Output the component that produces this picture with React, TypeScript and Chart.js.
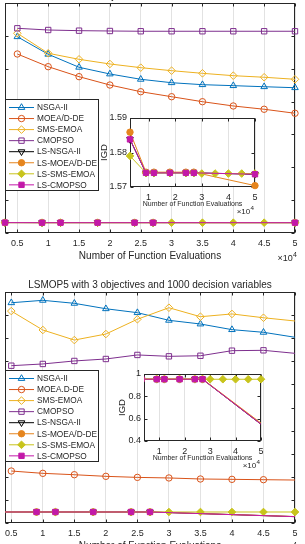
import React, { useEffect, useRef } from "react";
import { Chart, registerables } from "chart.js";
import { drawPoint } from "chart.js/helpers";

Chart.register(...registerables);

/* ---------------- data: IGD versus function evaluations (x 10^4) ---------------- */

const evals = [0.5, 1, 1.5, 2, 2.5, 3, 3.5, 4, 4.5, 5];
const lsEvals = [0.3, 0.9, 1.2, 1.8, 2.4, 2.7, 3, 3.5, 4, 4.5, 5];
const lsEvalsJump = [0.3, 0.9, 1.2, 1.8, 2.4, 2.7, 5];

const evalTicks = [0.5, 1, 1.5, 2, 2.5, 3, 3.5, 4, 4.5, 5];
const insetEvalTicks = [1, 2, 3, 4, 5];

// upper panel
const upperTitle = "LSMOP4 with 3 objectives and 1000 decision variables";
const upperNsga2 = [29.87, 27.2, 25.22, 24.2, 23.39, 22.87, 22.57, 22.42, 22.26, 22.11];
const upperMoeadDe = [27.24, 25.31, 23.79, 22.52, 21.5, 20.74, 19.98, 19.33, 18.83, 18.22];
const upperSmsEmoa = [30.39, 27.35, 26.43, 25.72, 25.16, 24.7, 24.3, 23.94, 23.7, 23.39];
const upperCmopso = [31.15, 30.89, 30.79, 30.74, 30.7, 30.7, 30.7, 30.7, 30.7, 30.7];
const upperLsNsga2 = [1.5838, 1.5741, 1.5741, 1.5741, 1.5741, 1.5741, 1.5737];
const upperLsMoeadDe = [1.5859, 1.5743, 1.5743, 1.5743, 1.5743, 1.5743, 1.5704];
const upperLsSmsEmoa = [1.579, 1.5741, 1.5741, 1.5741, 1.5741, 1.5741, 1.5739, 1.5739, 1.5739, 1.5739, 1.5739];
const upperLsCmopso = [1.5838, 1.5741, 1.5741, 1.5741, 1.5741, 1.5741, 1.5737];
const upperYTicks = [0, 5, 10, 15, 20, 25, 30, 35];
const upperInsetYTicks = [1.57, 1.58, 1.59];
const upperLabels = ["NSGA-II", "MOEA/D-DE", "SMS-EMOA", "CMOPSO", "LS-NSGA-II", "LS-MOEA/D-DE", "LS-SMS-EMOA", "LS-CMOPSO"];

// lower panel (LSMOP5)
const lowerTitle = "LSMOP5 with 3 objectives and 1000 decision variables";
const lowerNsga2 = [19.07, 19.28, 19.02, 18.55, 18.21, 17.55, 17.23, 16.74, 16.51, 16.08];
const lowerMoeadDe = [4.5, 4.3, 4.18, 4.04, 3.95, 3.9, 3.81, 3.78, 3.75, 3.72];
const lowerSmsEmoa = [18.35, 16.71, 15.84, 16.36, 17.64, 18.64, 17.86, 18.1, 17.77, 17.49];
const lowerCmopso = [13.62, 13.77, 14.03, 14.2, 14.55, 14.43, 14.48, 14.92, 14.95, 14.69];
const lowerLsNsga2 = [0.953, 0.953, 0.953, 0.953, 0.953, 0.953, 0.55];
const lowerLsMoeadDe = [0.955, 0.955, 0.955, 0.955, 0.955, 0.955, 0.56];
const lowerLsSmsEmoa = [0.953, 0.953, 0.953, 0.953, 0.953, 0.953, 0.953, 0.953, 0.953, 0.953, 0.953];
const lowerLsCmopso = [0.953, 0.953, 0.953, 0.953, 0.953, 0.953, 0.55];
const lowerYTicks = [0, 2, 4, 6, 8, 10, 12, 14, 16, 18, 20];
const lowerInsetYTicks = [0.4, 0.6, 0.8, 1];
const lowerLabels = ["NSGA-II", "MOEA.D-DE", "SMS-EMOA", "CMOPSO", "LS-NSGA-II", "LS-MOEA/D-DE", "LS-SMS-EMOA", "LS-CMOPSO"];

const xAxisLabel = "Number of Function Evaluations";
const insetYLabel = "IGD";

/* ---------------- styling ---------------- */

const AXIS = "#262626";
const GRID = "#e2e2e2";
const FONT = '"Liberation Sans", Arial, Helvetica, sans-serif';
const TICK_LEN = 3;

type MarkerStyle = { color: string; marker: string; rotation: number; filled: boolean; radius: number };

// one entry per algorithm, in legend order
const algoStyles: MarkerStyle[] = [
  { color: "#0072BD", marker: "triangle", rotation: 0, filled: false, radius: 3.8 },
  { color: "#D95319", marker: "circle", rotation: 0, filled: false, radius: 3.2 },
  { color: "#EDB120", marker: "rectRot", rotation: 0, filled: false, radius: 3.8 },
  { color: "#7E2F8E", marker: "rect", rotation: 0, filled: false, radius: 3.8 },
  { color: "#000000", marker: "triangle", rotation: 180, filled: false, radius: 3.8 },
  { color: "#E5851E", marker: "circle", rotation: 0, filled: true, radius: 3.2 },
  { color: "#C8C41C", marker: "rectRot", rotation: 0, filled: true, radius: 3.8 },
  { color: "#C218A8", marker: "rect", rotation: 0, filled: true, radius: 3.8 },
];

type Series = { xs: number[]; ys: number[]; style: number; endMarker?: boolean };

type Panel = {
  width: number;
  height: number;
  area: { left: number; top: number; right: number; bottom: number };
  xRange: [number, number];
  xTicks: number[];
  yRange: [number, number];
  yTicks: number[];
  series: Series[];
  clipLeft: number;
  whitePlot: boolean;
  tickFont: number;
  tickGap: number;
  yTickLabels: boolean;
  xLabelFont: number;
  xLabelGap: number;
  expFont: number;
  expGap: number;
  expRight: number;
  yLabelFont?: number;
  yLabelGap?: number;
  title?: string;
  titleGap?: number;
  legend?: { labels: string[]; top: number };
};

const upperSeries: Series[] = [
  { xs: evals, ys: upperNsga2, style: 0 },
  { xs: evals, ys: upperMoeadDe, style: 1 },
  { xs: evals, ys: upperSmsEmoa, style: 2 },
  { xs: evals, ys: upperCmopso, style: 3 },
  { xs: lsEvalsJump, ys: upperLsNsga2, style: 4 },
  { xs: lsEvalsJump, ys: upperLsMoeadDe, style: 5 },
  { xs: lsEvals, ys: upperLsSmsEmoa, style: 6 },
  { xs: lsEvalsJump, ys: upperLsCmopso, style: 7 },
];

const lowerSeries: Series[] = [
  { xs: evals, ys: lowerNsga2, style: 0, endMarker: false },
  { xs: evals, ys: lowerMoeadDe, style: 1, endMarker: false },
  { xs: evals, ys: lowerSmsEmoa, style: 2, endMarker: false },
  { xs: evals, ys: lowerCmopso, style: 3, endMarker: false },
  { xs: lsEvalsJump, ys: lowerLsNsga2, style: 4, endMarker: false },
  { xs: lsEvalsJump, ys: lowerLsMoeadDe, style: 5, endMarker: false },
  { xs: lsEvals, ys: lowerLsSmsEmoa, style: 6 },
  { xs: lsEvalsJump, ys: lowerLsCmopso, style: 7, endMarker: false },
];

const mainText = {
  tickFont: 9,
  tickGap: 10.5,
  yTickLabels: false,
  xLabelFont: 10,
  xLabelGap: 23.5,
  expFont: 9,
  expGap: 26,
  expRight: 2,
  titleGap: 7,
};

const insetText = {
  tickFont: 9,
  tickGap: 10.5,
  yTickLabels: true,
  xLabelFont: 7,
  xLabelGap: 17,
  expFont: 8,
  expGap: 25,
  expRight: -1,
  yLabelFont: 9.5,
};

const upperPanel: Panel = {
  width: 305,
  height: 290,
  area: { left: 3, top: 23, right: 295, bottom: 253 },
  xRange: [0.3, 5],
  xTicks: evalTicks,
  yRange: [0, 35],
  yTicks: upperYTicks,
  series: upperSeries,
  clipLeft: 5,
  whitePlot: false,
  ...mainText,
  title: upperTitle,
  legend: { labels: upperLabels, top: 95.5 },
};

const upperInset: Panel = {
  width: 170,
  height: 120,
  area: { left: 35, top: 13, right: 160, bottom: 82 },
  xRange: [0.3, 5],
  xTicks: insetEvalTicks,
  yRange: [1.57, 1.59],
  yTicks: upperInsetYTicks,
  series: upperSeries.slice(4),
  clipLeft: 5,
  whitePlot: true,
  ...insetText,
  yLabelGap: 26,
};

const lowerPanel: Panel = {
  width: 305,
  height: 290,
  area: { left: 3, top: 22, right: 295, bottom: 253 },
  xRange: [0.4, 5],
  xTicks: evalTicks,
  yRange: [0, 20],
  yTicks: lowerYTicks,
  series: lowerSeries,
  clipLeft: 0,
  whitePlot: false,
  ...mainText,
  title: lowerTitle,
  legend: { labels: lowerLabels, top: 77.5 },
};

const lowerInset: Panel = {
  width: 170,
  height: 125,
  area: { left: 39, top: 14, right: 156, bottom: 81 },
  xRange: [0.4, 5],
  xTicks: insetEvalTicks,
  yRange: [0.4, 1],
  yTicks: lowerInsetYTicks,
  series: lowerSeries.slice(4),
  clipLeft: 0,
  whitePlot: true,
  ...insetText,
  yLabelGap: 22,
};

/* ---------------- drawing helpers ---------------- */

function fmt(v: number): string {
  return String(Math.round(v * 1000) / 1000);
}

function marker(ctx: CanvasRenderingContext2D, st: MarkerStyle, x: number, y: number) {
  ctx.save();
  ctx.strokeStyle = st.color;
  ctx.fillStyle = st.filled ? st.color : "rgba(0,0,0,0)";
  ctx.lineWidth = 1;
  drawPoint(ctx, { pointStyle: st.marker, rotation: st.rotation, radius: st.radius, borderWidth: 1 } as any, x, y);
  ctx.restore();
}

function framePlugin(p: Panel) {
  return {
    id: "frame",
    beforeDraw(chart: any) {
      if (!p.whitePlot) return;
      const { ctx, chartArea: a } = chart;
      ctx.save();
      ctx.fillStyle = "#ffffff";
      ctx.fillRect(a.left, a.top, a.right - a.left, a.bottom - a.top);
      ctx.restore();
    },
    beforeDatasetsDraw(chart: any) {
      const { ctx, chartArea: a, scales } = chart;
      const L = Math.round(a.left) + 0.5;
      const R = Math.round(a.right) - 0.5;
      const T = Math.round(a.top) + 0.5;
      const B = Math.round(a.bottom) - 0.5;
      ctx.save();
      ctx.strokeStyle = AXIS;
      ctx.lineWidth = 1;
      ctx.strokeRect(L, T, R - L, B - T);
      ctx.beginPath();
      for (const v of p.xTicks) {
        const px = Math.round(scales.x.getPixelForValue(v)) + 0.5;
        ctx.moveTo(px, B);
        ctx.lineTo(px, B - TICK_LEN);
        ctx.moveTo(px, T);
        ctx.lineTo(px, T + TICK_LEN);
      }
      for (const v of p.yTicks) {
        const py = Math.round(scales.y.getPixelForValue(v)) + 0.5;
        ctx.moveTo(L, py);
        ctx.lineTo(L + TICK_LEN, py);
        ctx.moveTo(R, py);
        ctx.lineTo(R - TICK_LEN, py);
      }
      ctx.stroke();
      ctx.restore();
    },
    afterDraw(chart: any) {
      const { ctx, chartArea: a, scales } = chart;
      ctx.save();
      ctx.fillStyle = AXIS;
      ctx.textBaseline = "middle";

      // x tick labels
      ctx.font = `${p.tickFont}px ${FONT}`;
      ctx.textAlign = "center";
      for (const v of p.xTicks) {
        ctx.fillText(fmt(v), scales.x.getPixelForValue(v), a.bottom + p.tickGap);
      }

      // y tick labels
      if (p.yTickLabels) {
        ctx.textAlign = "right";
        for (const v of p.yTicks) {
          ctx.fillText(fmt(v), a.left - 3, scales.y.getPixelForValue(v));
        }
      }

      // x axis label
      ctx.font = `${p.xLabelFont}px ${FONT}`;
      ctx.textAlign = "center";
      ctx.fillText(xAxisLabel, (a.left + a.right) / 2, a.bottom + p.xLabelGap);

      // exponent of the x axis
      const supFont = p.expFont * 0.78;
      ctx.font = `${supFont}px ${FONT}`;
      const w4 = ctx.measureText("4").width;
      const x4 = a.right + p.expRight - w4;
      ctx.textAlign = "left";
      ctx.fillText("4", x4, a.bottom + p.expGap - p.expFont * 0.45);
      ctx.font = `${p.expFont}px ${FONT}`;
      ctx.textAlign = "right";
      ctx.fillText("\u00d710", x4 - 0.3, a.bottom + p.expGap);

      // y axis label
      if (p.yLabelFont && p.yLabelGap) {
        ctx.save();
        ctx.font = `${p.yLabelFont}px ${FONT}`;
        ctx.translate(a.left - p.yLabelGap, (a.top + a.bottom) / 2);
        ctx.rotate(-Math.PI / 2);
        ctx.textAlign = "center";
        ctx.fillText(insetYLabel, 0, 0);
        ctx.restore();
      }

      // title
      if (p.title) {
        ctx.font = `10px ${FONT}`;
        ctx.textAlign = "center";
        ctx.fillText(p.title, (a.left + a.right) / 2, a.top - (p.titleGap || 7));
      }

      // legend
      if (p.legend) {
        const lx = Math.round(a.left);
        const ly = Math.round(a.top + p.legend.top);
        const lw = 94;
        const lh = 92;
        ctx.fillStyle = "#ffffff";
        ctx.fillRect(lx, ly, lw, lh);
        ctx.strokeStyle = AXIS;
        ctx.lineWidth = 1;
        ctx.strokeRect(lx + 0.5, ly + 0.5, lw - 1, lh - 1);
        ctx.font = `8.3px ${FONT}`;
        ctx.textAlign = "left";
        p.legend.labels.forEach((label, i) => {
          const st = algoStyles[i];
          const y = ly + 8.5 + i * 11.05;
          ctx.strokeStyle = st.color;
          ctx.lineWidth = 1;
          ctx.beginPath();
          ctx.moveTo(lx + 4, y);
          ctx.lineTo(lx + 29, y);
          ctx.stroke();
          marker(ctx, st, lx + 16.5, y);
          ctx.fillStyle = AXIS;
          ctx.fillText(label, lx + 32, y + 0.5);
        });
      }
      ctx.restore();
    },
  };
}

function buildConfig(p: Panel): any {
  const n = p.series.length;
  const datasets = p.series.map((s, i) => {
    const st = algoStyles[s.style];
    const last = s.xs.length - 1;
    return {
      label: upperLabels[s.style],
      data: s.xs.map((x, k) => ({ x, y: s.ys[k] })),
      borderColor: st.color,
      borderWidth: 1,
      pointStyle: st.marker,
      pointRotation: st.rotation,
      pointRadius: (c: any) => (s.endMarker === false && c.dataIndex === last ? 0 : st.radius),
      pointBorderColor: st.color,
      pointBackgroundColor: st.filled ? st.color : "rgba(0,0,0,0)",
      pointBorderWidth: 1,
      tension: 0,
      fill: false,
      order: n - i,
      clip: { left: p.clipLeft, top: 5, right: 5, bottom: 5 },
    };
  });

  return {
    type: "line",
    data: { datasets },
    options: {
      animation: false,
      responsive: false,
      devicePixelRatio: 1,
      events: [],
      layout: {
        padding: {
          left: p.area.left,
          top: p.area.top,
          right: p.width - p.area.right,
          bottom: p.height - p.area.bottom,
        },
      },
      plugins: {
        legend: { display: false },
        tooltip: { enabled: false },
        title: { display: false },
      },
      scales: {
        x: {
          type: "linear",
          display: true,
          min: p.xRange[0],
          max: p.xRange[1],
          border: { display: false },
          grid: { display: true, drawTicks: false, color: GRID, lineWidth: 1 },
          ticks: { display: false },
          afterBuildTicks: (sc: any) => {
            sc.ticks = p.xTicks.map((v) => ({ value: v }));
          },
        },
        y: {
          type: "linear",
          display: true,
          min: p.yRange[0],
          max: p.yRange[1],
          border: { display: false },
          grid: { display: false, drawTicks: false },
          ticks: { display: false },
          afterBuildTicks: (sc: any) => {
            sc.ticks = p.yTicks.map((v) => ({ value: v }));
          },
        },
      },
    },
    plugins: [framePlugin(p)],
  };
}

function PanelCanvas({ panel, left, top }: { panel: Panel; left: number; top: number }) {
  const ref = useRef<HTMLCanvasElement>(null);
  useEffect(() => {
    if (!ref.current) return;
    const chart = new Chart(ref.current, buildConfig(panel));
    return () => chart.destroy();
  }, [panel]);
  return (
    <canvas
      ref={ref}
      width={panel.width}
      height={panel.height}
      style={{ position: "absolute", left, top, width: panel.width, height: panel.height }}
    />
  );
}

export default function App() {
  return (
    <div
      style={{
        position: "absolute",
        left: 0,
        top: 0,
        width: 305,
        height: 544,
        overflow: "hidden",
        background: "#ffffff",
      }}
    >
      <PanelCanvas panel={upperPanel} left={0} top={-20} />
      <PanelCanvas panel={upperInset} left={95} top={105} />
      <PanelCanvas panel={lowerPanel} left={0} top={270} />
      <PanelCanvas panel={lowerInset} left={105} top={360} />
    </div>
  );
}
